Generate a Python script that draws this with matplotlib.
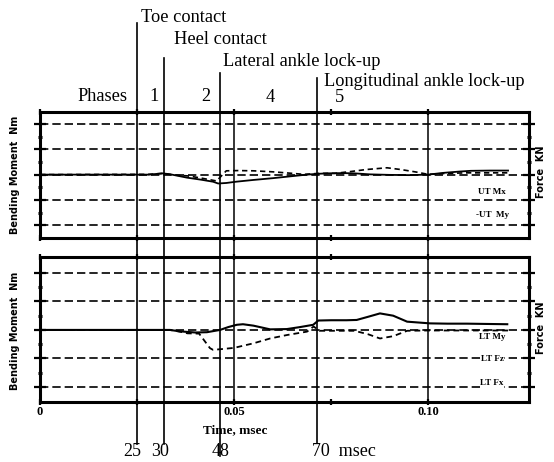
import matplotlib
matplotlib.use('Agg')
import matplotlib.pyplot as plt
from matplotlib.lines import Line2D
from matplotlib.transforms import blended_transform_factory

# ---------------- data ----------------
# upper panel (UT): time in s, values in panel units
ut_t_mx = [0, 0.028, 0.0317, 0.034, 0.0379, 0.0415, 0.0446, 0.0459, 0.048, 0.0505,
           0.055, 0.060, 0.065, 0.0688, 0.0714, 0.074, 0.078, 0.081, 0.085, 0.090,
           0.095, 0.100, 0.104, 0.108, 0.111, 0.116, 0.1206]
ut_mx = [0, 0, 0.05, 0.0, -0.12, -0.20, -0.28, -0.35, -0.33, -0.28,
         -0.21, -0.14, -0.06, 0.0, 0.03, 0.05, 0.06, 0.05, 0.01, -0.01,
         -0.02, 0.0, 0.07, 0.12, 0.15, 0.16, 0.16]
ut_t_my = [0, 0.028, 0.0317, 0.035, 0.038, 0.041, 0.043, 0.0455, 0.048, 0.051, 0.055,
           0.060, 0.065, 0.068, 0.072, 0.076, 0.080, 0.084, 0.0894, 0.093, 0.097,
           0.100, 0.105, 0.110, 0.115, 0.1206]
ut_my = [0, 0.01, 0.05, -0.02, -0.05, -0.12, -0.18, -0.25, 0.15, 0.16, 0.15,
         0.11, 0.05, 0.01, 0.05, 0.05, 0.12, 0.2, 0.27, 0.2, 0.1,
         0.01, 0.05, 0.07, 0.07, 0.07]

# lower panel (LT)
lt_t_my = [0, 0.0335, 0.036, 0.040, 0.043, 0.0464, 0.0485, 0.0507, 0.0523, 0.055,
           0.0593, 0.0636, 0.067, 0.0704, 0.0717, 0.075, 0.079, 0.0816, 0.0845,
           0.0876, 0.091, 0.0946, 0.1005, 0.105, 0.110, 0.115, 0.1204]
lt_my = [0, 0, -0.05, -0.09, -0.08, 0.0, 0.10, 0.18, 0.20, 0.15,
         0.02, 0.03, 0.10, 0.18, 0.33, 0.34, 0.34, 0.35, 0.46,
         0.58, 0.50, 0.29, 0.23, 0.22, 0.22, 0.21, 0.20]
lt_t_fz = [0, 0.0335, 0.036, 0.038, 0.041, 0.0438, 0.0446, 0.047, 0.050, 0.055,
           0.0593, 0.0636, 0.0688, 0.0705, 0.072, 0.076, 0.081, 0.0845, 0.0876,
           0.091, 0.0946, 0.100, 0.110, 0.1206]
lt_fz = [0, 0, -0.06, -0.12, -0.13, -0.64, -0.70, -0.67, -0.63, -0.47,
         -0.30, -0.18, -0.06, 0.12, -0.03, -0.03, -0.03, -0.15, -0.30,
         -0.22, -0.03, -0.02, -0.02, -0.02]

grid_y = [-2, -1, 0, 1, 2]
minor_y = [-1.5, -0.5, 0.5, 1.5]
grid_x = [0.05, 0.10]
minor_x = [0.025, 0.075]
tick_x = [0, 0.05, 0.10]
tick_labels = ['0', '0.05', '0.10']

event_t = [0.0250, 0.0320, 0.0464, 0.0714]
event_names = ['Toe contact', 'Heel contact', 'Lateral ankle lock-up',
               'Longitudinal ankle lock-up']
event_labels = ['25', '30', '48', '70  msec']
phase_labels = ['Phases', '1', '2', '4', '5']

upper_names = ['UT Mx', '-UT  My']
lower_names = ['LT My', 'LT Fz', 'LT Fx']

# ---------------- figure ----------------
W, H = 554, 462
fig = plt.figure(figsize=(W / 100, H / 100), dpi=100)
fig.patch.set_facecolor('white')


def fx(px):
    return px / W


def fy(py):
    return 1 - py / H


SERIF = ['Liberation Serif', 'DejaVu Serif']

ax1 = fig.add_axes([fx(40), fy(238), fx(529) - fx(40), fy(112) - fy(238)])
ax2 = fig.add_axes([fx(40), fy(402), fx(529) - fx(40), fy(257) - fy(402)])

grid_dash = (0, (5, 2.4))
for ax, ylim in ((ax1, (-2.5, 2.47)), (ax2, (-2.53, 2.56))):
    ax.patch.set_facecolor('none')
    ax.set_xlim(0, 0.126)
    ax.set_ylim(*ylim)
    for yv in grid_y:
        ax.axhline(yv, color='k', lw=1.2, ls=grid_dash, zorder=1)
    for s in ax.spines.values():
        s.set_linewidth(2.2)
    ax.set_yticks(grid_y)
    ax.set_yticks(minor_y, minor=True)
    ax.set_xticks(tick_x)
    ax.set_xticks(minor_x, minor=True)
    ax.tick_params(axis='y', which='major', direction='inout', length=8, width=1.6,
                   left=True, right=True, labelleft=False, labelright=False)
    ax.tick_params(axis='y', which='minor', direction='inout', length=3, width=2.2,
                   left=True, right=True)
    ax.tick_params(axis='x', which='both', direction='inout', length=4, width=1.6,
                   top=True, bottom=True, labelbottom=False)

ax2.set_xticks(tick_x, tick_labels)
ax2.tick_params(axis='x', which='major', labelbottom=True, pad=1, labelsize=9)
for lab in ax2.get_xticklabels():
    lab.set_fontfamily(SERIF)
    lab.set_fontweight('bold')

data_dash = (0, (3.2, 2.2))
ax1.plot(ut_t_mx, ut_mx, color='k', lw=1.3, zorder=3)
ax1.plot(ut_t_my, ut_my, color='k', lw=1.2, ls=data_dash, zorder=3)
ax2.plot(lt_t_my, lt_my, color='k', lw=1.5, zorder=3)
ax2.plot(lt_t_fz, lt_fz, color='k', lw=1.3, ls=data_dash, zorder=3)

# curve labels
for name, yv in zip(upper_names, [-0.67, -1.58]):
    ax1.text(0.1165, yv, name, ha='center', va='center', fontsize=6.5,
             fontweight='bold', family=SERIF, zorder=4)
for name, yv in zip(lower_names, [-0.25, -1.03, -1.88]):
    ax2.text(0.1165, yv, name, ha='center', va='center', fontsize=6.5,
             fontweight='bold', family=SERIF, zorder=4,
             bbox=dict(facecolor='white', edgecolor='none', pad=0.3))

# vertical lines spanning the figure (drawn above both panels)
tr = blended_transform_factory(ax1.transData, fig.transFigure)
line_top = [23, 58, 73, 78]
line_bot = [444, 444, 456, 443]
for t, yt, yb in zip(event_t, line_top, line_bot):
    fig.add_artist(Line2D([t, t], [fy(yt), fy(yb)], color='k', lw=1.2,
                          transform=tr, zorder=5))
for xv in grid_x:
    fig.add_artist(Line2D([xv, xv], [fy(112), fy(402)], color='k', lw=1.1,
                          transform=tr, zorder=5))

name_pos = [(141, 18), (174, 40), (223, 62), (324, 82)]
for name, (px, py) in zip(event_names, name_pos):
    fig.text(fx(px), fy(py), name, ha='left', va='center', fontsize=13.2,
             family=SERIF)

phase_pos = [(102, 96), (154, 96), (206, 96), (270, 97), (339, 98)]
for lab, (px, py) in zip(phase_labels, phase_pos):
    fig.text(fx(px), fy(py), lab, ha='center', va='center', fontsize=13.2,
             family=SERIF)

ev_lab_pos = [(132, 'center'), (160, 'center'), (221, 'center'), (312, 'left')]
for lab, (px, ha) in zip(event_labels, ev_lab_pos):
    fig.text(fx(px), fy(451), lab, ha=ha, va='center', fontsize=13, family=SERIF,
             zorder=6)

fig.text(fx(235), fy(430), 'Time, msec', ha='center', va='center', fontsize=9.5,
         fontweight='bold', family=SERIF)

for cy in (175, 331):
    fig.text(fx(15), fy(cy), 'Bending Moment  Nm', rotation=90, ha='center',
             va='center', fontsize=7, fontweight='bold')
    fig.text(fx(541), fy(cy - 3), 'Force  KN', rotation=90, ha='center',
             va='center', fontsize=7, fontweight='bold')

fig.savefig('out.png', dpi=100)
